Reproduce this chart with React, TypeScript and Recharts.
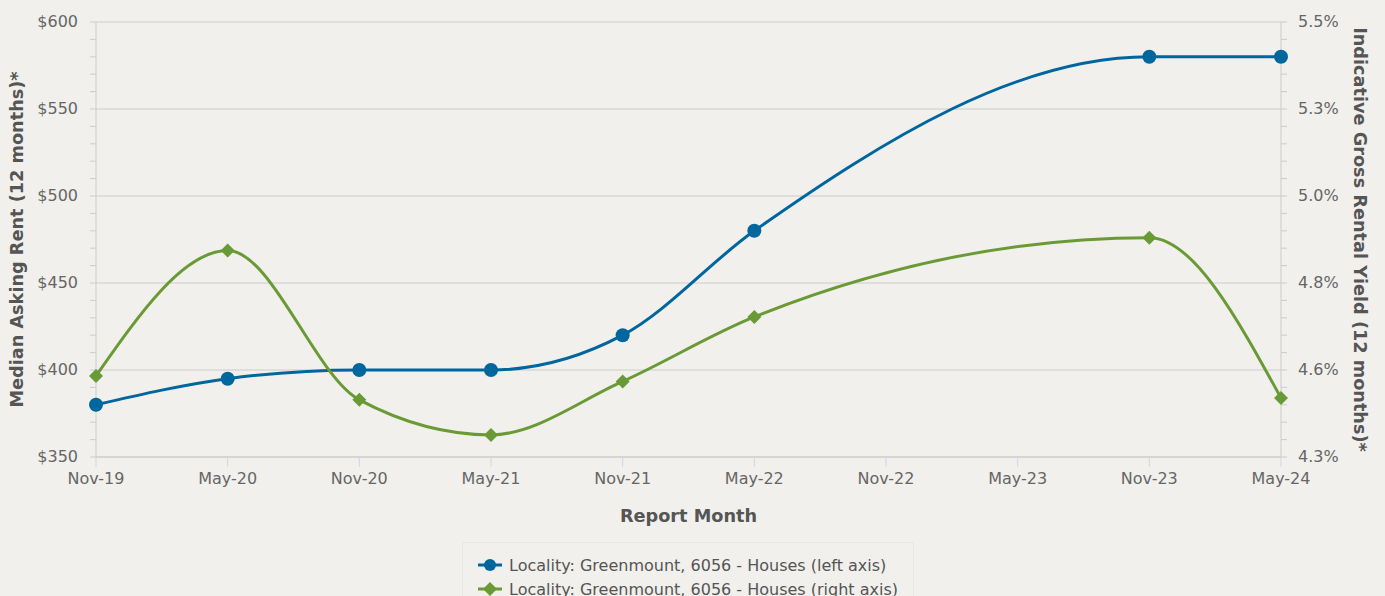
import { LineChart, Line, XAxis, YAxis, CartesianGrid, Legend } from "recharts";

const months = ["Nov-19", "May-20", "Nov-20", "May-21", "Nov-21", "May-22", "Nov-22", "May-23", "Nov-23", "May-24"];
const rentValues = [380, 395, 400, 400, 420, 480, null, null, 580, 580];
const yieldValues = [4.54, 4.88, 4.475, 4.38, 4.525, 4.7, null, null, 4.915, 4.48];

const leftMajor = [350, 400, 450, 500, 550, 600];
const rightDomain = [4.32, 5.5];

const BLUE = "#00669e";
const GREEN = "#6a9a35";
const FONT = "'DejaVu Sans', sans-serif";

// minor ticks: 5 per major step
const leftTicks = Array.from({ length: 26 }, (_, i) => 350 + i * 10);
const rightTicks = Array.from({ length: 26 }, (_, i) => rightDomain[0] + (i * (rightDomain[1] - rightDomain[0])) / 25);

const data = months.map((m, i) => ({ month: m, rent: rentValues[i], yld: yieldValues[i] }));

function LeftTick(props: any) {
  const { x, y, payload } = props;
  const v = payload.value;
  if ((v - 350) % 50 !== 0) return <g />;
  return (
    <text x={x} y={y} dy={5} textAnchor="end" fill="#666" fontSize={16} fontFamily={FONT}>
      ${v}
    </text>
  );
}

function RightTick(props: any) {
  const { x, y, payload, index } = props;
  if (index % 5 !== 0) return <g />;
  return (
    <text x={x} y={y} dy={5} textAnchor="start" fill="#666" fontSize={16} fontFamily={FONT}>
      {payload.value.toFixed(1)}%
    </text>
  );
}

function Diamond(props: any) {
  const { cx, cy } = props;
  if (cx == null || cy == null) return <g />;
  const s = 7;
  return <polygon points={`${cx},${cy - s} ${cx + s},${cy} ${cx},${cy + s} ${cx - s},${cy}`} fill={GREEN} />;
}

function Circle(props: any) {
  const { cx, cy } = props;
  if (cx == null || cy == null) return <g />;
  return <circle cx={cx} cy={cy} r={7} fill={BLUE} />;
}

function LegendBox() {
  const items = [
    { label: "Locality: Greenmount, 6056 - Houses (left axis)", color: BLUE, shape: "circle" },
    { label: "Locality: Greenmount, 6056 - Houses (right axis)", color: GREEN, shape: "diamond" },
  ];
  return (
    <div
      style={{
        marginLeft: 462,
        width: 452,
        height: 54,
        boxSizing: "border-box",
        border: "1px solid #e8e7e3",
        borderBottom: "none",
        paddingTop: 10,
        paddingLeft: 15,
        fontFamily: FONT,
        fontSize: 16,
        color: "#555",
        textAlign: "left",
        whiteSpace: "nowrap",
      }}
    >
      {items.map((it) => (
        <div key={it.label} style={{ height: 24, display: "flex", alignItems: "center" }}>
          <svg width={24} height={16} style={{ marginRight: 7 }}>
            <line x1={0} y1={8} x2={24} y2={8} stroke={it.color} strokeWidth={3} />
            {it.shape === "circle" ? (
              <circle cx={12} cy={8} r={6} fill={it.color} />
            ) : (
              <polygon points="12,1 19,8 12,15 5,8" fill={it.color} />
            )}
          </svg>
          <span>{it.label}</span>
        </div>
      ))}
    </div>
  );
}

export default function App() {
  return (
    <div style={{ position: "absolute", left: 0, top: 0, width: 1385, height: 596, background: "#f1f0ec", overflow: "hidden", fontFamily: FONT }}>
      <LineChart width={1385} height={596} data={data} margin={{ top: 22, right: 0, bottom: 0, left: 0 }}>
        <CartesianGrid vertical={false} stroke="#cccccc" yAxisId="left" horizontalValues={leftMajor} />
        <XAxis
          dataKey="month"
          height={85}
          interval={0}
          axisLine={{ stroke: "#cccccc" }}
          tickLine={{ stroke: "#ccd6eb" }}
          tickSize={10}
          tickMargin={6}
          tick={{ fill: "#666", fontSize: 16, fontFamily: FONT }}
          label={{ value: "Report Month", position: "insideBottom", offset: 20, fill: "#555", fontSize: 17.7, fontWeight: "bold", fontFamily: FONT }}
        />
        <YAxis
          yAxisId="left"
          width={96}
          domain={[350, 600]}
          ticks={leftTicks}
          interval={0}
          allowDataOverflow
          axisLine={{ stroke: "#cccccc" }}
          tickLine={{ stroke: "#cccccc" }}
          tickSize={6}
          tickMargin={12}
          tick={<LeftTick />}
          label={{
            content: (p: any) => {
              const vb = p.viewBox;
              return (
                <text
                  transform={`translate(17, ${vb.y + vb.height / 2}) rotate(-90)`}
                  textAnchor="middle"
                  dominantBaseline="central"
                  fill="#555"
                  fontSize={17.7}
                  fontWeight="bold"
                  fontFamily={FONT}
                >
                  Median Asking Rent (12 months)*
                </text>
              );
            },
          }}
        />
        <YAxis
          yAxisId="right"
          orientation="right"
          width={104}
          domain={rightDomain}
          ticks={rightTicks}
          interval={0}
          allowDataOverflow
          axisLine={{ stroke: "#cccccc" }}
          tickLine={{ stroke: "#cccccc" }}
          tickSize={6}
          tickMargin={11}
          tick={<RightTick />}
          label={{
            content: (p: any) => {
              const vb = p.viewBox;
              return (
                <text
                  transform={`translate(${vb.x + 79}, ${vb.y + vb.height / 2}) rotate(90)`}
                  textAnchor="middle"
                  dominantBaseline="central"
                  fill="#555"
                  fontSize={17.7}
                  fontWeight="bold"
                  fontFamily={FONT}
                >
                  Indicative Gross Rental Yield (12 months)*
                </text>
              );
            },
          }}
        />
        <Legend verticalAlign="bottom" height={54} wrapperStyle={{ left: 0, width: 1385 }} content={() => <LegendBox />} />
        <Line
          yAxisId="left"
          type="monotone"
          dataKey="rent"
          stroke={BLUE}
          strokeWidth={3}
          dot={<Circle />}
          activeDot={false}
          connectNulls
          isAnimationActive={false}
        />
        <Line
          yAxisId="right"
          type="monotone"
          dataKey="yld"
          stroke={GREEN}
          strokeWidth={3}
          dot={<Diamond />}
          activeDot={false}
          connectNulls
          isAnimationActive={false}
        />
      </LineChart>
    </div>
  );
}
